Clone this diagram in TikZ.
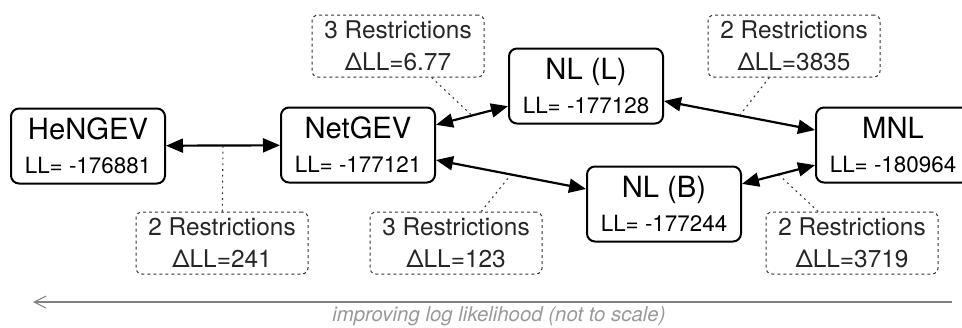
\documentclass[tikz,border=0pt]{standalone}
\usepackage{fontspec}
\setmainfont{TeX Gyre Heros}
\usetikzlibrary{arrows.meta}

\newcommand{\modeltext}[2]{#1\\{\fontsize{11.2}{17}\selectfont LL= #2}}
\newcommand{\restrtext}[2]{#1 Restrictions\\ΔLL=#2}

\begin{document}
\begin{tikzpicture}[x=0.5pt, y=-0.5pt,
		model/.style={draw, line width=1pt, rounded corners=4pt, fill=white, minimum width=77pt, minimum height=37.5pt, align=center, inner sep=2pt, font=\fontsize{14.6}{17}\selectfont},
		restr/.style={draw=black!80, line width=0.5pt, dash pattern=on 1.5pt off 1.5pt, rounded corners=3pt, minimum width=86pt, minimum height=31pt, align=center, inner sep=1pt, text=black!85, font=\fontsize{12.2}{16}\selectfont},
		link/.style={line width=1.1pt, {Triangle[length=8.5pt,width=7pt]}-{Triangle[length=8.5pt,width=7pt]}},
		hint/.style={line width=0.55pt, dash pattern=on 0.9pt off 2pt, black!80}]
		
		\useasboundingbox (0,0) rectangle (962,327);
		
		% models
		\node[model] (HeNGEV) at (88,146) {\modeltext{HeNGEV}{-176881}};
		\node[model] (NetGEV) at (358,145) {\modeltext{NetGEV}{-177121}};
		\node[model] (NLL) at (586,86) {\modeltext{NL (L)}{-177128}};
		\node[model] (NLB) at (664,204) {\modeltext{NL (B)}{-177244}};
		\node[model] (MNL) at (893,145) {\modeltext{MNL}{-180964}};
		
		% restrictions
		\node[restr] (r241) at (222,243) {\restrtext{2}{241}};
		\node[restr] (r677) at (398,46) {\restrtext{3}{6.77}};
		\node[restr] (r123) at (456,243) {\restrtext{3}{123}};
		\node[restr] (r3835) at (794,46) {\restrtext{2}{3835}};
		\node[restr] (r3719) at (852,243) {\restrtext{2}{3719}};
		
		% nesting
		\draw[link] (HeNGEV) -- coordinate[midway] (m241) (NetGEV);
		\draw[link] (NetGEV) -- coordinate[midway] (m677) (NLL);
		\draw[link] (NetGEV) -- coordinate[midway] (m123) (NLB);
		\draw[link] (NLL) -- coordinate[midway] (m3835) (MNL);
		\draw[link] (NLB) -- coordinate[midway] (m3719) (MNL);
		
		\draw[hint] (r241) -- (m241);
		\draw[hint] (r677) -- (m677);
		\draw[hint] (r123) -- (m123);
		\draw[hint] (r3835) -- (m3835);
		\draw[hint] (r3719) -- (m3719);
		
		% scale
		\coordinate (scaleR) at (952,302);
		\coordinate (scaleL) at (33,302);
		\draw[line width=0.9pt, black!50, -{Straight Barb[length=6pt,width=6pt,line width=0.5pt]}] (scaleR) -- (scaleL);
		\node[text=black!40, font=\fontsize{10.2}{12}\selectfont\itshape] (caption) at (499,316) {improving log likelihood (not to scale)};
		
	\end{tikzpicture}
\end{document}
